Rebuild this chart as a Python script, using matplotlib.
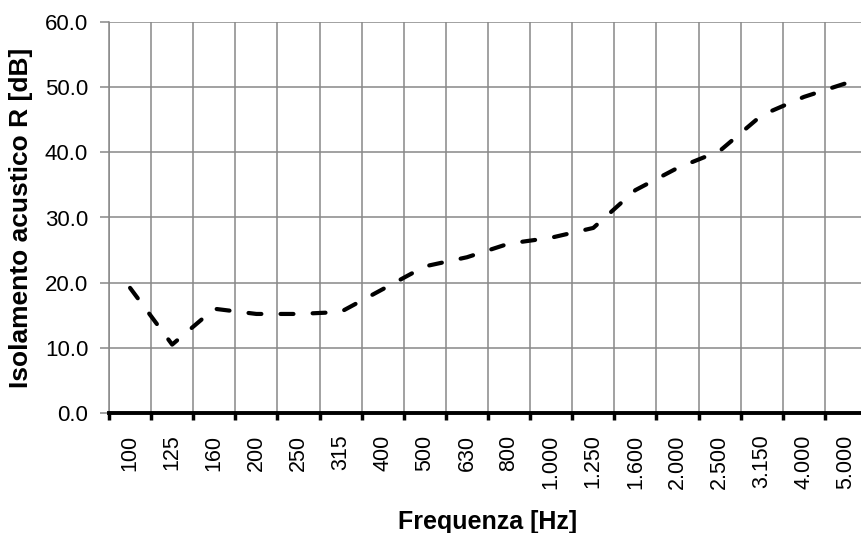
import numpy as np
import matplotlib
matplotlib.use('Agg')
import matplotlib.pyplot as plt
from matplotlib.ticker import FormatStrFormatter

freq_labels = ['100', '125', '160', '200', '250', '315', '400', '500', '630',
               '800', '1.000', '1.250', '1.600', '2.000', '2.500', '3.150',
               '4.000', '5.000']
r_values = [19.2, 10.5, 16.0, 15.2, 15.2, 15.5, 19.0, 22.5, 23.9,
            26.0, 26.9, 28.4, 34.2, 37.6, 40.2, 45.7, 48.5, 50.6]
y_ticks = [0, 10, 20, 30, 40, 50, 60]

GRID = '#888888'


def main():
    plt.rcParams['font.family'] = ['Liberation Sans', 'DejaVu Sans']
    fig = plt.figure(figsize=(8.62, 5.33), dpi=100)
    ax = fig.add_axes([109 / 862, 120 / 533, 758 / 862, 391 / 533])

    x = np.arange(len(freq_labels))
    line, = ax.plot(x, r_values, color='black', linewidth=3,
                    solid_capstyle='round', dash_capstyle='round')
    line.set_dashes([3.1, 4.6])

    ax.set_xlim(-0.5, len(freq_labels) - 0.5)
    ax.set_ylim(0, 60)

    # category labels at centres, gridlines/ticks at boundaries
    ax.set_xticks(x)
    ax.set_xticklabels(freq_labels, rotation=90, fontsize=15.5)
    ax.set_xticks(np.arange(len(freq_labels) + 1) - 0.5, minor=True)
    ax.tick_params(axis='x', which='major', length=0, pad=15.5)
    ax.tick_params(axis='x', which='minor', length=5, width=2.5,
                   color='black', direction='out')

    ax.set_yticks(y_ticks)
    ax.yaxis.set_major_formatter(FormatStrFormatter('%.1f'))
    ax.tick_params(axis='y', length=6.5, width=1.1, color=GRID,
                   labelsize=16, pad=8.5)

    ax.grid(True, axis='x', which='minor', color=GRID, linewidth=1.1)
    ax.grid(True, axis='y', which='major', color=GRID, linewidth=1.1)
    ax.set_axisbelow(True)

    for s in ['top', 'right']:
        ax.spines[s].set_visible(False)
    ax.spines['left'].set_color(GRID)
    ax.spines['left'].set_linewidth(1.1)
    ax.spines['bottom'].set_color('black')
    ax.spines['bottom'].set_linewidth(2.8)
    ax.spines['bottom'].set_zorder(3)

    ax.set_xlabel('Frequenza [Hz]', fontsize=18, fontweight='bold')
    ax.xaxis.set_label_coords(0.4993, -0.248)
    ax.set_ylabel('Isolamento acustico R [dB]', fontsize=19,
                  fontweight='bold')
    ax.yaxis.set_label_coords(-0.1003, 0.499)

    fig.savefig('out.png', dpi=100)


if __name__ == '__main__':
    main()
